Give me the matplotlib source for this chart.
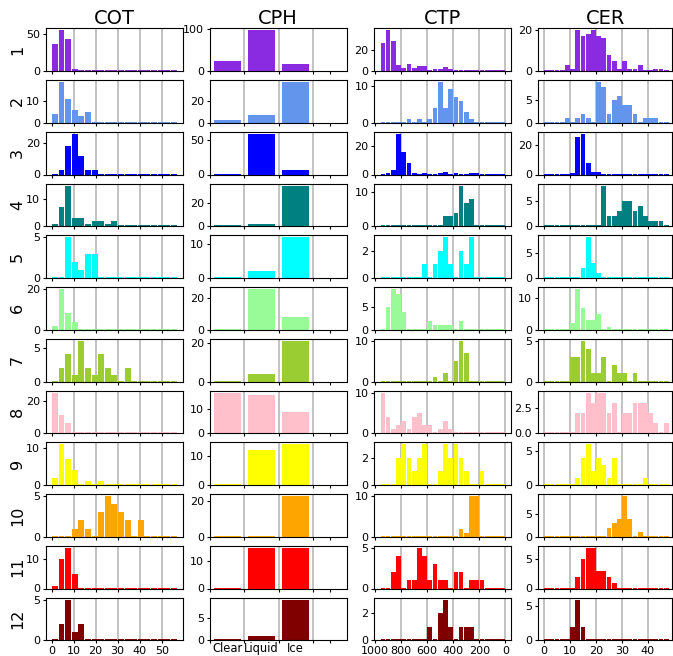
import numpy as np
import matplotlib
matplotlib.use("Agg")
import matplotlib.pyplot as plt
from matplotlib.ticker import MaxNLocator
from matplotlib.transforms import blended_transform_factory

# ---------------------------------------------------------------------------
# Cluster histograms of cloud properties (counts per bin)
# ---------------------------------------------------------------------------
clusters = [str(i) for i in range(1, 13)]
colors = ["blueviolet", "cornflowerblue", "blue", "teal", "cyan", "palegreen",
          "yellowgreen", "pink", "yellow", "orange", "red", "maroon"]
variables = ["COT", "CPH", "CTP", "CER"]

# Cloud optical thickness: bins of width 3 from 0 to 57
cot_edges = np.arange(0, 58, 3)
cot_counts = [
    [36, 55, 43, 3, 0, 0, 0, 0, 0, 0, 0, 0, 0, 0, 0, 0, 0, 0, 0],
    [4, 19, 11, 6, 3, 5, 0, 0, 0, 0, 0, 0, 0, 0, 0, 0, 0, 0, 0],
    [0, 3, 18, 26, 12, 3, 3, 0, 0, 0, 0, 0, 0, 0, 0, 0, 0, 0, 0],
    [1, 7, 15, 3, 3, 1, 2, 2, 1, 2, 0, 0, 0, 0, 0, 0, 0, 0, 0],
    [0, 0, 5, 2, 1, 3, 3, 0, 0, 0, 0, 0, 0, 0, 0, 0, 0, 0, 0],
    [2, 20, 8, 4, 0, 0, 0, 0, 0, 0, 0, 0, 0, 0, 0, 0, 0, 0, 0],
    [0, 2, 4, 1, 6, 2, 1, 4, 2, 1, 0, 2, 0, 0, 0, 0, 0, 0, 0],
    [25, 11, 6, 0, 0, 0, 0, 0, 0, 0, 0, 0, 0, 0, 0, 0, 0, 0, 0],
    [2, 11, 7, 4, 0, 1, 0, 1, 0, 0, 0, 0, 0, 0, 0, 0, 0, 0, 0],
    [0, 0, 0, 1, 2, 1, 0, 3, 5, 4, 3, 2, 0, 2, 0, 0, 0, 0, 0],
    [1, 10, 14, 5, 0, 0, 0, 0, 0, 0, 0, 0, 0, 0, 0, 0, 0, 0, 0],
    [0, 2, 5, 1, 2, 0, 0, 0, 0, 0, 0, 0, 0, 0, 0, 0, 0, 0, 0],
]

# Cloud phase: Clear / Liquid / Ice
cph_labels = ["Clear", "Liquid", "Ice"]
cph_edges = np.arange(0, 4)
cph_counts = [
    [24, 97, 16],
    [3, 7, 38],
    [0, 59, 6],
    [0, 2, 35],
    [0, 2, 12],
    [0, 26, 8],
    [0, 4, 21],
    [17, 16, 9],
    [0, 12, 14],
    [0, 0, 23],
    [0, 15, 15],
    [0, 1, 9],
]

# Cloud top pressure (hPa): bins of width 40 from 960 down to 0
ctp_edges = np.arange(960, -1, -40)
ctp_counts = [
    [26, 38, 28, 6, 3, 7, 3, 5, 5, 1, 2, 2, 4, 2, 1, 0, 0, 0, 0, 0, 0, 0, 0, 0],
    [0, 0, 0, 0, 0, 1, 0, 1, 0, 1, 4, 11, 4, 9, 7, 6, 3, 1, 0, 0, 0, 0, 0, 0],
    [0, 1, 3, 29, 16, 8, 1, 0, 1, 0, 0, 1, 2, 0, 1, 0, 0, 1, 1, 0, 0, 0, 0, 0],
    [0, 0, 0, 0, 0, 0, 0, 0, 0, 0, 0, 0, 3, 3, 4, 12, 7, 8, 0, 0, 0, 0, 0, 0],
    [0, 0, 0, 0, 0, 0, 0, 0, 1, 0, 1, 2, 3, 1, 0, 2, 1, 3, 0, 0, 0, 0, 0, 0],
    [0, 5, 9, 8, 4, 0, 0, 0, 0, 2, 1, 1, 1, 1, 0, 2, 0, 0, 0, 0, 0, 0, 0, 0],
    [0, 0, 0, 0, 0, 0, 0, 0, 0, 0, 1, 0, 2, 0, 5, 10, 7, 0, 0, 0, 0, 0, 0, 0],
    [10, 4, 1, 2, 3, 1, 4, 5, 2, 2, 0, 1, 3, 1, 0, 0, 0, 0, 0, 0, 0, 0, 0, 0],
    [0, 0, 0, 2, 3, 2, 1, 2, 3, 0, 0, 1, 3, 2, 3, 2, 1, 0, 0, 1, 0, 0, 0, 0],
    [0, 0, 0, 0, 0, 0, 0, 0, 0, 0, 0, 0, 0, 0, 0, 2, 1, 10, 10, 0, 0, 0, 0, 0],
    [0, 0, 2, 4, 0, 1, 1, 5, 4, 1, 3, 1, 1, 0, 2, 2, 0, 1, 1, 1, 0, 0, 0, 0],
    [0, 0, 0, 0, 0, 0, 0, 0, 0, 1, 0, 2, 3, 1, 0, 1, 1, 1, 0, 0, 0, 0, 0, 0],
]

# Cloud effective radius (um): bins of width 2 from 0 to 48
cer_edges = np.arange(0, 49, 2)
cer_counts = [
    [0, 0, 0, 0, 3, 1, 20, 17, 18, 20, 17, 16, 8, 5, 1, 5, 1, 1, 3, 0, 0, 1, 1, 0],
    [0, 0, 0, 0, 1, 0, 1, 2, 1, 0, 9, 8, 2, 5, 6, 4, 4, 2, 0, 1, 1, 1, 0, 0],
    [0, 0, 0, 0, 0, 1, 26, 28, 8, 2, 2, 0, 0, 0, 0, 0, 0, 0, 0, 0, 0, 0, 0, 0],
    [0, 0, 0, 0, 0, 0, 0, 0, 0, 0, 0, 8, 2, 2, 3, 5, 5, 3, 4, 2, 1, 1, 1, 0],
    [0, 0, 0, 0, 0, 0, 0, 2, 8, 3, 1, 0, 0, 0, 0, 0, 0, 0, 0, 0, 0, 0, 0, 0],
    [0, 0, 0, 0, 0, 2, 13, 7, 3, 3, 5, 0, 1, 0, 0, 0, 0, 0, 0, 0, 0, 0, 0, 0],
    [0, 0, 0, 0, 0, 3, 3, 5, 4, 1, 1, 3, 0, 2, 1, 1, 0, 1, 0, 0, 0, 0, 0, 0],
    [0, 0, 0, 0, 0, 0, 2, 2, 4, 3, 4, 4, 2, 3, 0, 2, 2, 3, 3, 3, 2, 1, 0, 1],
    [0, 0, 0, 0, 0, 0, 1, 4, 6, 2, 4, 3, 1, 4, 0, 0, 0, 0, 0, 1, 0, 0, 0, 0],
    [0, 0, 0, 0, 0, 0, 0, 0, 0, 0, 0, 0, 2, 3, 4, 9, 4, 0, 1, 0, 0, 0, 0, 0],
    [0, 0, 0, 0, 0, 0, 2, 5, 7, 7, 3, 3, 2, 1, 0, 0, 0, 0, 0, 0, 0, 0, 0, 0],
    [0, 0, 0, 0, 0, 2, 6, 2, 0, 0, 0, 0, 0, 0, 0, 0, 0, 0, 0, 0, 0, 0, 0, 0],
]

# Axis setup per variable
cot_ticks = [0, 10, 20, 30, 40, 50]
cph_ticks = [0, 1, 2, 3, 3.5]
ctp_ticks = [1000, 800, 600, 400, 200, 0]
cer_ticks = [0, 10, 20, 30, 40]

# ---------------------------------------------------------------------------
W, H = 673, 656
fig = plt.figure(figsize=(W / 100, H / 100), dpi=100)

col_left = [45.7, 209.7, 374.3, 538.0]
col_width = [137.0, 137.0, 136.5, 134.3]
row_top0 = 28.3
row_pitch = 51.75
ax_h = 42.7

TICK_FS = 8


def draw_hist(ax, edges, counts, color, rwidth):
    edges = np.asarray(edges, dtype=float)
    counts = np.asarray(counts, dtype=float)
    centers = (edges[:-1] + edges[1:]) / 2
    widths = np.abs(np.diff(edges)) * rwidth
    filled = counts > 0
    ax.bar(centers[filled], counts[filled], width=widths[filled],
           color=color, linewidth=0, zorder=2)
    empty = ~filled
    if empty.any():
        ax.hlines(np.zeros(empty.sum()), centers[empty] - widths[empty] / 2,
                  centers[empty] + widths[empty] / 2, colors=color,
                  linewidth=1.4, zorder=1.9)


def add_grid(ax, xs):
    for x in xs:
        ax.axvline(x, color="#bdbdbd", linewidth=1.3, zorder=0.5)


for r in range(12):
    top = row_top0 + r * row_pitch
    color = colors[r]
    last = r == 11
    axes_row = []
    for c in range(4):
        ax = fig.add_axes([col_left[c] / W, 1 - (top + ax_h) / H,
                           col_width[c] / W, ax_h / H])
        axes_row.append(ax)

    # COT
    ax = axes_row[0]
    draw_hist(ax, cot_edges, cot_counts[r], color, 0.9)
    ax.set_xlim(-2.685, 59.535)
    ax.set_xticks(cot_ticks)
    add_grid(ax, cot_ticks[1:])

    # CPH
    ax = axes_row[1]
    draw_hist(ax, cph_edges, cph_counts[r], color, 0.8)
    ax.set_xlim(-0.02, 4.0)
    ax.set_xticks(cph_ticks)
    ax.set_xticklabels([""] * len(cph_ticks))
    add_grid(ax, cph_ticks[1:4])
    if last:
        trans = blended_transform_factory(ax.transData, ax.transAxes)
        for i, lab in enumerate(cph_labels):
            ax.text(i + 0.5, -0.035, lab, transform=trans, ha="center",
                    va="top", fontsize=8.3)

    # CTP
    ax = axes_row[2]
    draw_hist(ax, ctp_edges, ctp_counts[r], color, 0.9)
    ax.set_xlim(1005.8, -41.0)
    ax.set_xticks(ctp_ticks)
    add_grid(ax, ctp_ticks[1:])

    # CER
    ax = axes_row[3]
    draw_hist(ax, cer_edges, cer_counts[r], color, 0.9)
    ax.set_xlim(-2.3, 49.35)
    ax.set_xticks(cer_ticks)
    add_grid(ax, cer_ticks)

    for c, ax in enumerate(axes_row):
        ax.yaxis.set_major_locator(MaxNLocator(nbins=2, steps=[1, 2, 2.5, 5, 10]))
        ax.tick_params(labelsize=TICK_FS, length=2.2, pad=2)
        if not last or c == 1:
            ax.tick_params(axis="x", labelbottom=False)
        if r == 0:
            ax.set_title(variables[c], fontsize=14, pad=2.5)

    fig.text(17.5 / W, 1 - (top + ax_h / 2) / H, clusters[r], rotation=90,
             ha="center", va="center", fontsize=11.5)

fig.savefig("out.png", dpi=100)
